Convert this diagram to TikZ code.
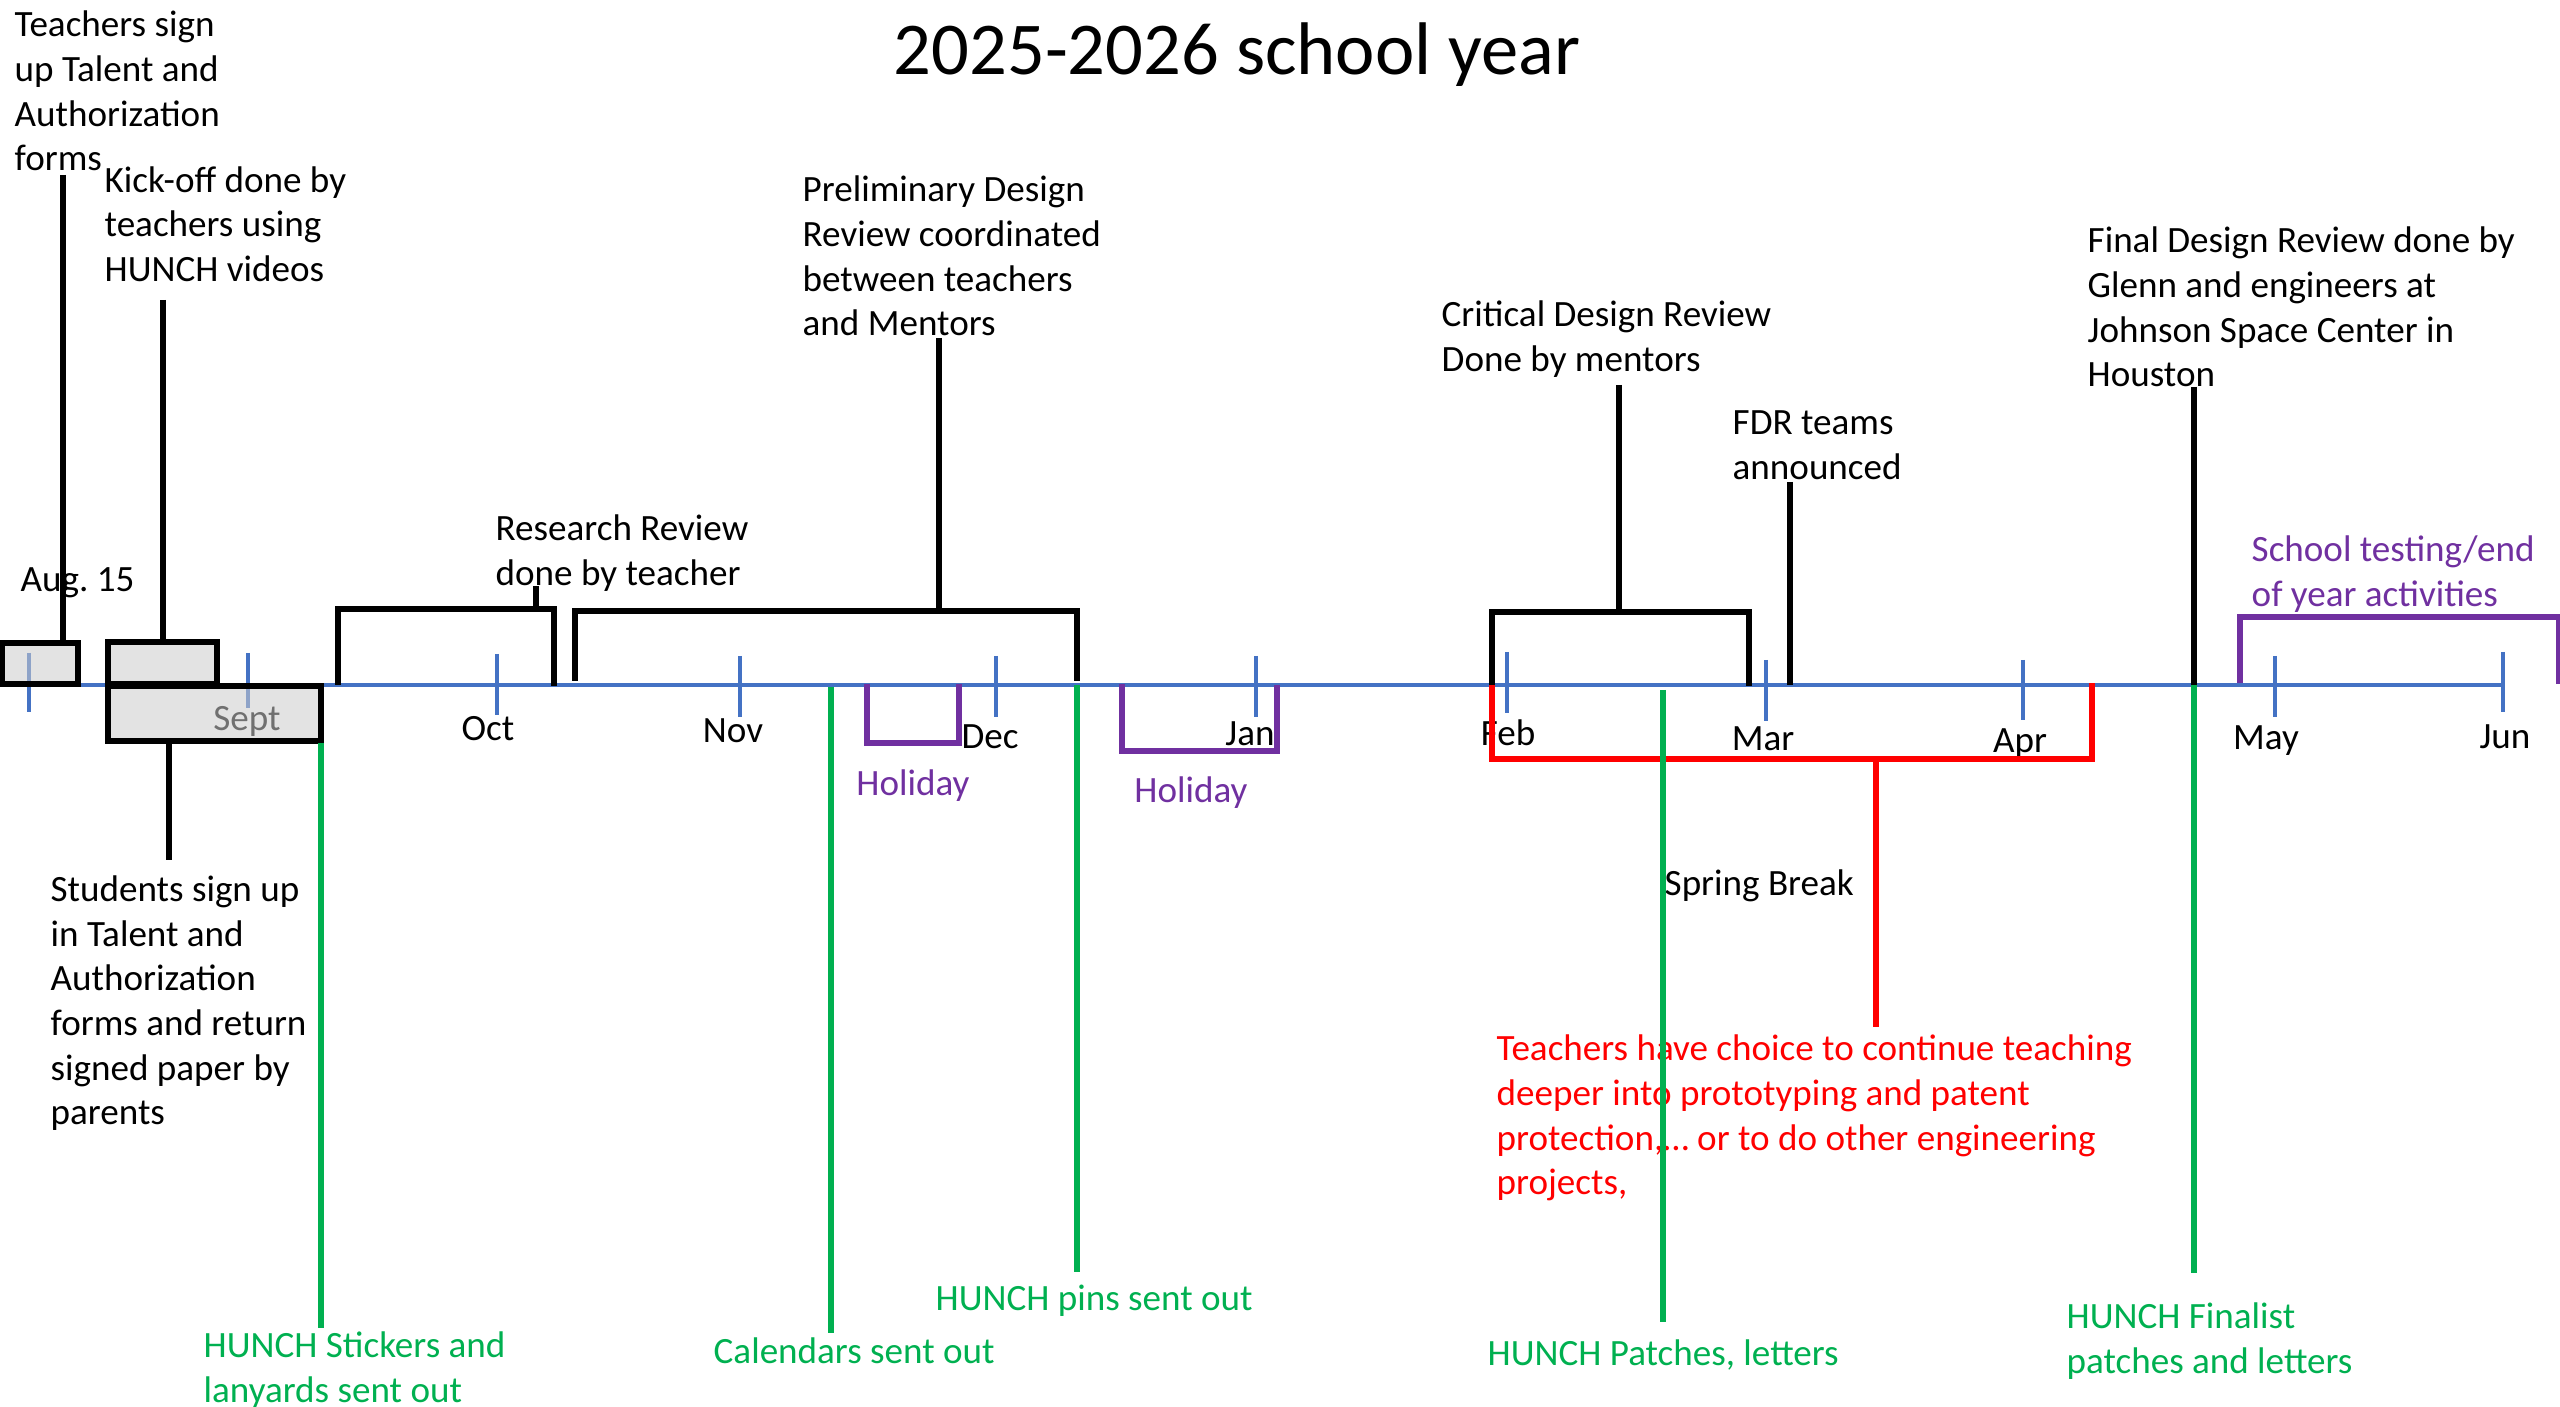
\documentclass[tikz,border=0pt]{standalone}
\usepackage{fontspec}
\setmainfont{Carlito}
\definecolor{axeblue}{HTML}{4472C4}
\definecolor{vertH}{HTML}{00B050}
\definecolor{mauve}{HTML}{7030A0}
\definecolor{rouge}{HTML}{FF0000}

\begin{document}
\begin{tikzpicture}[x=0.01cm,y=-0.01cm,
    txt/.style={font=\fontsize{10.55}{12.7}\selectfont, align=left, anchor=west, inner sep=0pt, yshift=-0.9pt},
    mois/.style={font=\fontsize{10.55}{12.7}\selectfont, inner sep=0pt, yshift=-0.9pt},
    trait/.style={line width=1.7pt},
    vtrait/.style={vertH, line width=1.5pt},
    mtrait/.style={mauve, line width=1.6pt},
    boite/.style={draw=black, line width=1.6pt, fill=black!20, fill opacity=0.55}]
    \useasboundingbox (0,0) rectangle (2560,1407);
    % titre
    \node[font=\fontsize{21.2}{25}\selectfont, anchor=base, inner sep=0pt] (titre) at (1237,75) {2025-2026 school year};
    % axe du temps
    \coordinate (debut) at (0,685);
    \coordinate (fin) at (2503,685);
    \draw[axeblue, line width=1.1pt] (debut) -- (fin);
    \foreach \x/\a/\b in {29/653/712, 248/653/708, 497/654/715, 740/656/717, 996/656/717,
        1256/656/717, 1507/652/713, 1766/660/721, 2023/660/720, 2275/656/717, 2503/652/712}
        \draw[axeblue, line width=0.9pt] (\x,\a) -- (\x,\b);
    % mois
    \foreach \x/\y/\m in {247/718/Sept, 488/725/Oct, 733/728/Nov, 990/734/Dec, 1250/731/Jan,
        1508/730/Feb, 1763/736/Mar, 2020/740/Apr, 2266/737/May, 2505/734/Jun}
        \node[mois] (\m) at (\x,\y) {\m};
    \node[txt] (aug) at (20,580) {Aug.\ 15};
    % boites grises
    \filldraw[boite] (2,643) rectangle (78,684);
    \filldraw[boite] (108,642) rectangle (217,684);
    \filldraw[boite] (108,686) rectangle (321,741);
    % textes du haut
    \node[txt] (teachsign) at (14,88) {Teachers sign\\up Talent and\\Authorization\\forms};
    \node[txt] (kickoff) at (104,221) {Kick-off done by\\teachers using\\HUNCH videos};
    \node[txt] (research) at (495,550) {Research Review\\done by teacher};
    \node[txt] (prelim) at (802,253) {Preliminary Design\\Review coordinated\\between teachers\\and Mentors};
    \node[txt] (critical) at (1441,336) {Critical Design Review\\Done by mentors};
    \node[txt] (fdr) at (1732,442) {FDR teams\\announced};
    \node[txt] (final) at (2087,304) {Final Design Review done by\\Glenn and engineers at\\Johnson Space Center in\\Houston};
    \node[txt, text=mauve] (testing) at (2251,571) {School testing/end\\of year activities};
    % textes du bas
    \node[txt] (students) at (50,1000) {Students sign up\\in Talent and\\Authorization\\forms and return\\signed paper by\\parents};
    \node[mois, text=mauve] (holiA) at (913,782) {Holiday};
    \node[mois, text=mauve] (holiB) at (1191,789) {Holiday};
    \node[txt] (spring) at (1664,883) {Spring Break};
    \node[txt, text=rouge] (choice) at (1496,1115) {Teachers have choice to continue teaching\\deeper into prototyping and patent\\protection,… or to do other engineering\\projects,};
    \node[txt, text=vertH] (stickers) at (203,1367) {HUNCH Stickers and\\lanyards sent out};
    \node[txt, text=vertH] (calendars) at (713,1348) {Calendars sent out};
    \node[txt, text=vertH] (pins) at (935,1298) {HUNCH pins sent out};
    \node[txt, text=vertH] (patches) at (1487,1352) {HUNCH Patches, letters};
    \node[txt, text=vertH] (finalist) at (2066,1338) {HUNCH Finalist\\patches and letters};
    % accolades noires
    \draw[trait] (338,685) -- (338,609) -- (554,609) -- (554,686);
    \draw[trait] (575,681) -- (575,611) -- (1077,611) -- (1077,681);
    \draw[trait] (1492,685) -- (1492,612) -- (1749,612) -- (1749,686);
    % traits noirs
    \coordinate (teachA) at (63,175);  \coordinate (teachB) at (63,641);
    \coordinate (kickA) at (163,300);  \coordinate (kickB) at (163,640);
    \coordinate (studA) at (169,743);  \coordinate (studB) at (169,860);
    \coordinate (resA) at (536,586);   \coordinate (resB) at (536,609);
    \coordinate (preA) at (939,338);   \coordinate (preB) at (939,611);
    \coordinate (criA) at (1619,385);  \coordinate (criB) at (1619,612);
    \coordinate (fdrA) at (1790,482);  \coordinate (fdrB) at (1790,685);
    \coordinate (finA) at (2194,387);  \coordinate (finB) at (2194,685);
    \foreach \p in {teach, kick, stud, res, pre, cri, fdr, fin}
        \draw[trait] (\p A) -- (\p B);
    % vacances
    \draw[mtrait] (867,684) -- (867,743) -- (959,743) -- (959,684);
    \draw[mtrait] (1122,684) -- (1122,751) -- (1277,751) -- (1277,685);
    \draw[mtrait] (2240,683) -- (2240,617) -- (2559,617) -- (2559,684);
    % accolade rouge
    \coordinate (choiceA) at (1876,759);
    \coordinate (choiceB) at (1876,1027);
    \draw[rouge, line width=1.7pt] (1492,685) -- (1492,759) -- (2092,759) -- (2092,683);
    \draw[rouge, line width=1.7pt] (choiceA) -- (choiceB);
    % envois
    \coordinate (stickA) at (321,743);  \coordinate (stickB) at (321,1328);
    \coordinate (calA) at (831,687);    \coordinate (calB) at (831,1333);
    \coordinate (pinA) at (1077,685);   \coordinate (pinB) at (1077,1272);
    \coordinate (patA) at (1663,690);   \coordinate (patB) at (1663,1322);
    \coordinate (fliA) at (2194,685);   \coordinate (fliB) at (2194,1273);
    \foreach \p in {stick, cal, pin, pat, fli}
        \draw[vtrait] (\p A) -- (\p B);
\end{tikzpicture}
\end{document}
